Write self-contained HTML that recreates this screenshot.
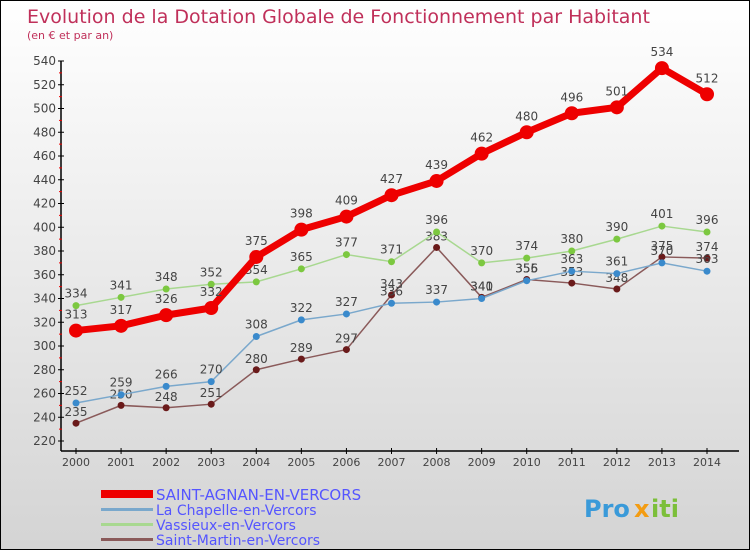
<!DOCTYPE html>
<html><head><meta charset="utf-8"><style>
body{margin:0}
#c{width:750px;height:550px;position:relative;overflow:hidden;box-sizing:border-box;border:1px solid #000;background:linear-gradient(#fff,#d4d4d4);font-family:"DejaVu Sans","Liberation Sans",sans-serif}
</style></head><body>
<div id="c">
<svg id="s" width="750" height="550" style="position:absolute;left:0;top:0">
<text x="26" y="22" font-size="19" fill="#c0305a">Evolution de la Dotation Globale de Fonctionnement par Habitant</text>
<text x="26" y="38" font-size="11" fill="#c0305a">(en € et par an)</text>
<g id="g"></g>
<g font-size="15" fill="#5555ff">
<rect x="100" y="489" width="52" height="8" fill="#e00"/>
<text x="155" y="499">SAINT-AGNAN-EN-VERCORS</text>
<rect x="100" y="507" width="52" height="3" fill="#7aa8cc"/>
<text x="155" y="514" font-size="14">La Chapelle-en-Vercors</text>
<rect x="100" y="522" width="52" height="3" fill="#a8d890"/>
<text x="155" y="529" font-size="14">Vassieux-en-Vercors</text>
<rect x="100" y="537" width="52" height="3" fill="#8a5a5a"/>
<text x="155" y="544" font-size="14">Saint-Martin-en-Vercors</text>
</g>
<g font-size="24" font-weight="bold">
<text x="583" y="516" fill="#3a9ad9">Pro</text><text x="633" y="516" fill="#f39c12">x</text><text x="650" y="516" fill="#7cbf3a">iti</text>
</g>
</svg>
</div>
<script>
const years=[2000,2001,2002,2003,2004,2005,2006,2007,2008,2009,2010,2011,2012,2013,2014];
const yTicks=[220,240,260,280,300,320,340,360,380,400,420,440,460,480,500,520,540];
const saintAgnan=[313,317,326,332,375,398,409,427,439,462,480,496,501,534,512];
const laChapelle=[252,259,266,270,308,322,327,336,337,340,355,363,361,370,363];
const vassieux=[334,341,348,352,354,365,377,371,396,370,374,380,390,401,396];
const saintMartin=[235,250,248,251,280,289,297,343,383,341,356,353,348,375,374];
const NS="http://www.w3.org/2000/svg";
const g=document.getElementById('g');
const xs=i=>75+i*(706-75)/14;
const ys=v=>440-(v-220)*(380/320);
function mk(t,a){const e=document.createElementNS(NS,t);for(const k in a)e.setAttribute(k,a[k]);g.appendChild(e);return e;}
let ax=mk('path',{d:'M60,60 V450 M60,450 H738',stroke:'#000','stroke-width':1.5,fill:'none'});


yTicks.forEach((v,i)=>{
 mk('line',{x1:57,x2:63,y1:ys(v),y2:ys(v),stroke:'#000'});
 if(i<yTicks.length-1)mk('line',{x1:58,x2:61,y1:ys(v+10),y2:ys(v+10),stroke:'#e00'});
 const t=mk('text',{x:55,y:ys(v)+4,'text-anchor':'end','font-size':12,fill:'#444'});
 t.textContent=v;
 
 
});
years.forEach((y,i)=>{
 mk('line',{x1:xs(i),x2:xs(i),y1:447,y2:453,stroke:'#000'});
 const t=mk('text',{x:xs(i),y:465,'text-anchor':'middle','font-size':11,fill:'#444'});
 t.textContent=y;
 
 
});
function series(vals,color,w,r,dot,name,lblOff){
 const p=mk('polyline',{points:vals.map((v,i)=>xs(i)+','+ys(v)).join(' '),fill:'none',stroke:color,'stroke-width':w,'stroke-linejoin':'round'});
 
 
 vals.forEach((v,i)=>{
  const c=mk('circle',{cx:xs(i),cy:ys(v),r:r,fill:dot});
  
  
  const t=mk('text',{x:xs(i),y:ys(v)+lblOff,'text-anchor':'middle','font-size':12,fill:'#444'});
  t.textContent=v;
  
  
 });
}
series(saintMartin,'#8a5a5a',1.5,3.5,'#6a1a1a','saint-martin',-7);
series(vassieux,'#a8d890',1.5,3.5,'#7cc840','vassieux',-8);
series(laChapelle,'#7aa8cc',1.5,3.5,'#3a8acc','la-chapelle',-8);
series(saintAgnan,'#e00',7,7,'#e00','saint-agnan',-12);
</script>
</body></html>
